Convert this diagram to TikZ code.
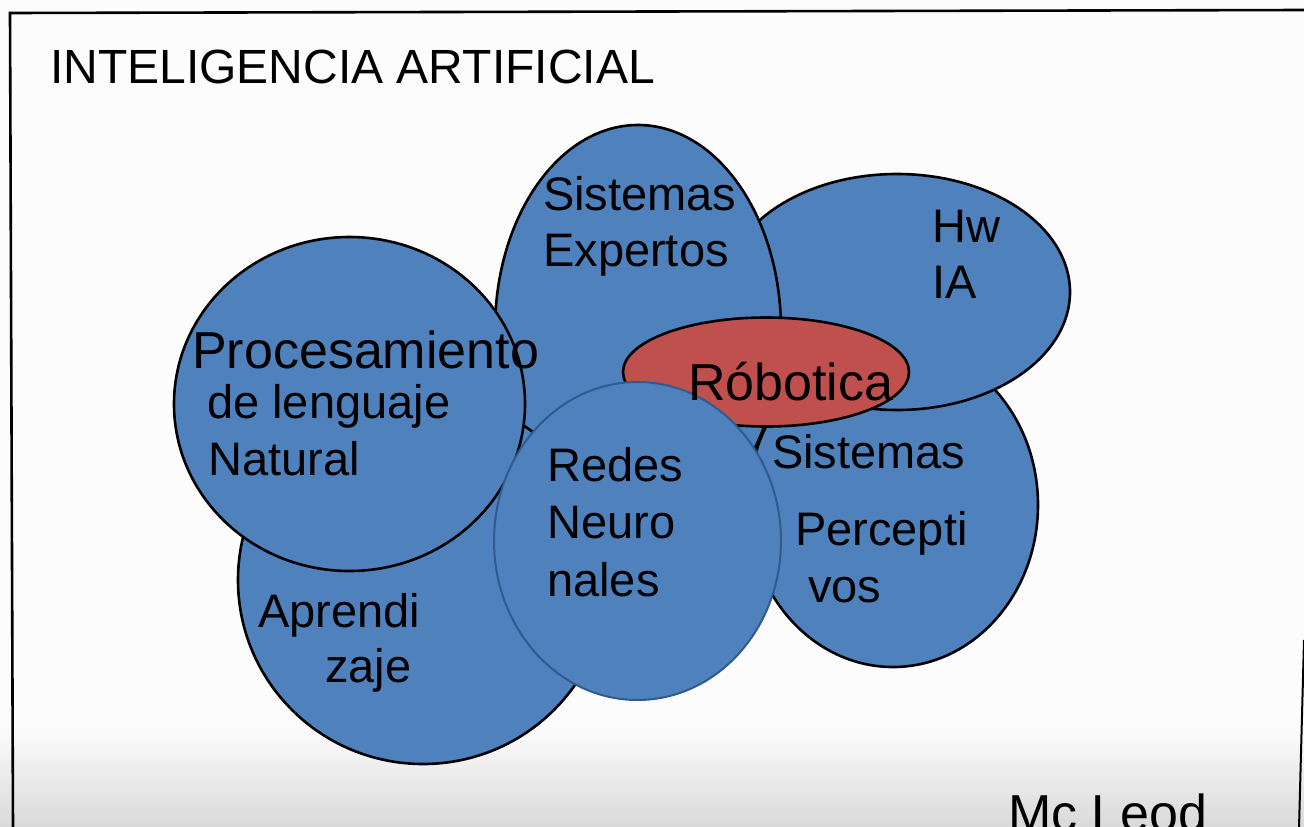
\documentclass[tikz,border=0pt]{standalone}
\usepackage{fontspec}
\setmainfont{Liberation Sans}
\usetikzlibrary{shapes.geometric}
\definecolor{bgc}{HTML}{FCFCFC}
\definecolor{bgbot}{HTML}{D9D9D9}
\definecolor{blobblue}{HTML}{4F81BD}
\definecolor{blobred}{HTML}{C0504D}
\definecolor{edgeblue}{HTML}{2F5B8E}
\tikzset{
  blob/.style={ellipse, draw=black, line width=2.6pt, fill=blobblue, inner sep=0pt, outer sep=0pt},
  redblob/.style={blob, fill=blobred},
  netblob/.style={blob, draw=edgeblue, line width=2pt},
  lbl/.style={font=\fontsize{47}{56}\selectfont, inner sep=0pt, anchor=base west, text=black},
  biglbl/.style={lbl, font=\fontsize{52}{60}\selectfont},
  frameline/.style={draw=black, line width=2.6pt}
}
\begin{document}
\begin{tikzpicture}[x=1pt,y=-1pt]
\useasboundingbox (0,0) rectangle (1304,827);
\clip (0,0) rectangle (1304,827);
% background
\fill[bgc] (0,0) rectangle (1304,827);
\shade[top color=bgc, bottom color=bgbot] (0,728) rectangle (1304,828);
% frame
\coordinate (ftl) at (10,13);
\coordinate (ftr) at (1305,10);
\coordinate (fbl) at (13,828);
\coordinate (frt) at (1304,640);
\coordinate (frb) at (1299,828);
\draw[frameline, line cap=rect] (fbl) -- (ftl) -- (ftr);
\draw[draw=black, line width=2pt] (frt) -- (frb);
% ellipses (back to front)
\node[blob, minimum width=290pt, minimum height=324pt] (sp) at (893,505) {};
\node[blob, minimum width=346pt, minimum height=236pt] (hw) at (897,292) {};
\node[blob, minimum width=286pt, minimum height=410pt] (se) at (638,330) {};
\node[blob, minimum width=370pt, minimum height=368pt] (apr) at (423,580) {};
\node[blob, minimum width=351pt, minimum height=334pt] (pln) at (349.5,404) {};
\node[redblob, minimum width=286pt, minimum height=109pt] (rob) at (766,372) {};
\node[netblob, minimum width=287pt, minimum height=318pt] (rn) at (637.5,541) {};
% labels
\node[lbl, font=\fontsize{48}{56}\selectfont] (title) at (50,83) {INTELIGENCIA ARTIFICIAL};
\node[lbl] (se1) at (543,210) {Sistemas};
\node[lbl] (se2) at (543,266) {Expertos};
\node[lbl] (hw1) at (932,242) {Hw};
\node[lbl] (hw2) at (932,298) {IA};
\node[biglbl] (rob1) at (688,400) {Róbotica};
\node[biglbl] (pln1) at (192,368) {Procesamiento};
\node[lbl] (pln2) at (207,418) {de lenguaje};
\node[lbl] (pln3) at (208,475) {Natural};
\node[lbl] (rn1) at (547,481) {Redes};
\node[lbl] (rn2) at (547,538) {Neuro};
\node[lbl] (rn3) at (547,596) {nales};
\node[lbl] (sp1) at (772,468) {Sistemas};
\node[lbl] (sp2) at (795,545) {Percepti};
\node[lbl] (sp3) at (808,602) {vos};
\node[lbl] (apr1) at (258,627) {Aprendi};
\node[lbl] (apr2) at (325,682) {zaje};
\node[biglbl] (auth) at (1008,831) {Mc Leod};
\end{tikzpicture}
\end{document}
